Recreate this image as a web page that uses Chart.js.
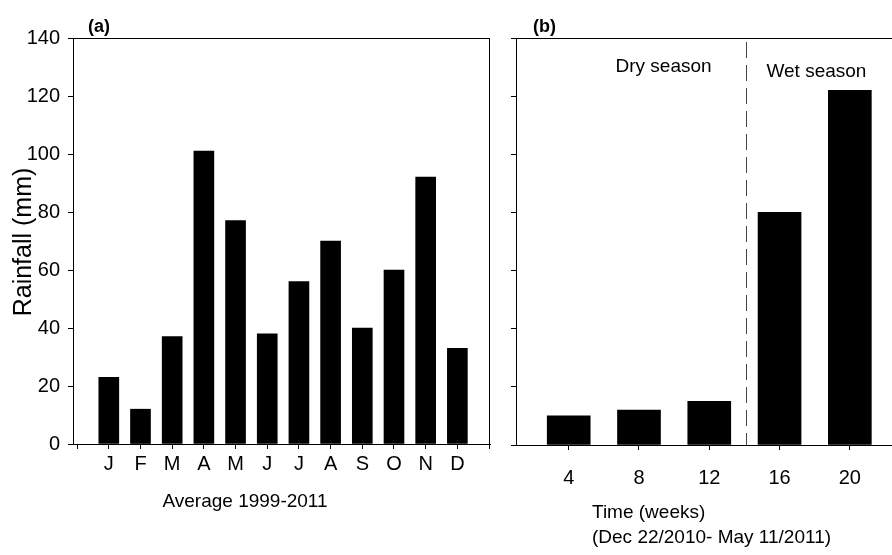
<!DOCTYPE html>
<html>
<head>
<meta charset="utf-8">
<script src="https://cdn.jsdelivr.net/npm/chart.js@4.4.1/dist/chart.umd.min.js"></script>
<style>
  html, body { margin: 0; padding: 0; background: #fff; overflow: hidden; }
  .wrap { position: relative; width: 892px; height: 555px; }
  .wrap canvas { position: absolute; left: 0; top: 0; }
</style>
</head>
<body>
<div class="wrap">
  <canvas id="chart-a" width="892" height="555"></canvas>
  <canvas id="chart-b" width="892" height="555"></canvas>
</div>
<script>
"use strict";

// panel (a): monthly average rainfall 1999-2011
const months = ["J", "F", "M", "A", "M", "J", "J", "A", "S", "O", "N", "D"];
const monthlyRain = [23, 12, 37, 101, 77, 38, 56, 70, 40, 60, 92, 33];

// panel (b): rainfall during the experiment
const weeks = [4, 8, 12, 16, 20];
const weeklyRain = [10, 12, 15, 80, 122];

const rainTicks = [0, 20, 40, 60, 80, 100, 120, 140];
const seasonBoundary = 14.1; // week where the wet season starts

const FONT = "'Liberation Sans', Arial, sans-serif";

function fixedTicks(values) {
  return function (scale) {
    scale.ticks = values.map((v) => ({ value: v }));
  };
}

function yAxis(width, showLabels) {
  return {
    min: 0,
    max: 140,
    afterBuildTicks: fixedTicks(rainTicks),
    afterFit: (s) => { s.width = width; },
    border: { color: "#000", width: 1 },
    grid: { drawOnChartArea: false, tickLength: 5, color: "#000" },
    ticks: {
      color: "#000",
      padding: 8,
      font: { family: FONT, size: 20 },
      callback: (v) => (showLabels ? v : ""),
    },
  };
}

function xAxis(min, max, ticks, height, pad, label) {
  return {
    type: "linear",
    offset: false,
    min: min,
    max: max,
    afterBuildTicks: fixedTicks(ticks),
    afterFit: (s) => { s.height = height; },
    border: { color: "#000", width: 1 },
    grid: { drawOnChartArea: false, offset: false, tickLength: 5, color: "#000" },
    ticks: {
      color: "#000",
      padding: pad,
      autoSkip: false,
      maxRotation: 0,
      font: { family: FONT, size: 20 },
      callback: label,
    },
  };
}

// box lines / text drawn on top of the chart
function panelDecor(opts) {
  return {
    id: "decor-" + opts.name,
    afterDraw(chart) {
      const { ctx, chartArea } = chart;
      ctx.save();
      ctx.strokeStyle = "#000";
      ctx.lineWidth = 1;
      ctx.beginPath();
      ctx.moveTo(chartArea.left - 4, chartArea.top + 0.5);
      ctx.lineTo(chartArea.right, chartArea.top + 0.5);
      if (opts.rightBorder) {
        ctx.moveTo(chartArea.right - 0.5, chartArea.top);
        ctx.lineTo(chartArea.right - 0.5, chartArea.bottom + 5);
      }
      ctx.stroke();
      ctx.fillStyle = "#000";
      opts.draw(chart, ctx);
      ctx.restore();
    },
  };
}

const chartA = new Chart(document.getElementById("chart-a").getContext("2d"), {
  type: "bar",
  data: {
    datasets: [
      {
        data: monthlyRain.map((v, i) => ({ x: i + 1, y: v })),
        backgroundColor: "#000",
        borderWidth: 0,
        barThickness: 20,
      },
    ],
  },
  options: {
    responsive: false,
    animation: false,
    events: [],
    layout: { padding: { left: 0, top: 38, right: 402, bottom: 0 } },
    plugins: { legend: { display: false }, tooltip: { enabled: false } },
    scales: {
      x: xAxis(-0.13, 13.03, [0, 1, 2, 3, 4, 5, 6, 7, 8, 9, 10, 11, 12, 13], 111, 3,
        (v) => months[v - 1] || ""),
      y: yAxis(73, true),
    },
  },
  plugins: [
    panelDecor({
      name: "a",
      rightBorder: true,
      draw(chart, ctx) {
        const area = chart.chartArea;
        ctx.textBaseline = "middle";
        ctx.textAlign = "left";
        ctx.font = "bold 18px " + FONT;
        ctx.fillText("(a)", area.left + 15, area.top - 11);

        ctx.textAlign = "center";
        ctx.font = "19px " + FONT;
        ctx.fillText("Average 1999-2011", area.left + 172, 502);

        ctx.save();
        ctx.translate(24, 242);
        ctx.rotate(-Math.PI / 2);
        ctx.font = "25px " + FONT;
        ctx.fillText("Rainfall (mm)", 0, 0);
        ctx.restore();
      },
    }),
  ],
});

const chartB = new Chart(document.getElementById("chart-b").getContext("2d"), {
  type: "bar",
  data: {
    datasets: [
      {
        data: weeks.map((w, i) => ({ x: w, y: weeklyRain[i] })),
        backgroundColor: "#000",
        borderWidth: 0,
        barThickness: 43,
      },
    ],
  },
  options: {
    responsive: false,
    animation: false,
    events: [],
    layout: { padding: { left: 0, top: 38, right: 0, bottom: 0 } },
    plugins: { legend: { display: false }, tooltip: { enabled: false } },
    scales: {
      x: xAxis(1, 22.4, weeks, 110, 16, (v) => v),
      y: yAxis(516, false),
    },
  },
  plugins: [
    panelDecor({
      name: "b",
      rightBorder: false,
      draw(chart, ctx) {
        const area = chart.chartArea;
        const xs = chart.scales.x;
        const ys = chart.scales.y;

        // season boundary
        const bx = Math.round(xs.getPixelForValue(seasonBoundary)) + 0.5;
        ctx.save();
        ctx.strokeStyle = "#444";
        ctx.setLineDash([16, 7]);
        ctx.beginPath();
        ctx.moveTo(bx, area.top + 4);
        ctx.lineTo(bx, area.bottom);
        ctx.stroke();
        ctx.restore();

        ctx.textBaseline = "middle";
        ctx.textAlign = "left";
        ctx.font = "bold 18px " + FONT;
        ctx.fillText("(b)", area.left + 17, area.top - 11);

        ctx.textAlign = "center";
        ctx.font = "19px " + FONT;
        ctx.fillText("Dry season", xs.getPixelForValue(9.4), ys.getPixelForValue(130));
        ctx.fillText("Wet season", xs.getPixelForValue(18.1), ys.getPixelForValue(128.5));

        ctx.textAlign = "left";
        ctx.fillText("Time (weeks)", area.left + 76, 513);
        ctx.fillText("(Dec 22/2010- May 11/2011)", area.left + 76, 538);
      },
    }),
  ],
});
</script>
</body>
</html>
